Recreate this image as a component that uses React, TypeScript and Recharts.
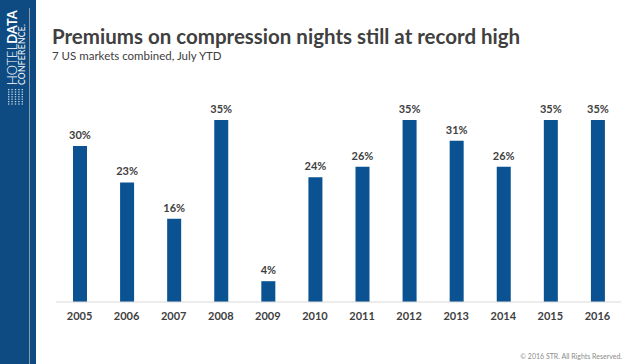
import { BarChart, Bar, XAxis, YAxis, LabelList } from 'recharts'

const years = ['2005', '2006', '2007', '2008', '2009', '2010', '2011', '2012', '2013', '2014', '2015', '2016']
const premiums = [30, 23, 16, 35, 4, 24, 26, 35, 31, 26, 35, 35]

const data = years.map((y, i) => ({ year: y, premium: premiums[i] }))

const FONT = 'Lato, "Open Sans", sans-serif'

export default function App() {
  return (
    <div style={{ position: 'absolute', left: 0, top: 0, width: 628, height: 364, background: '#fff', fontFamily: FONT, overflow: 'hidden' }}>
      {/* side strip */}
      <svg width={36} height={364} style={{ position: 'absolute', left: 0, top: 0 }}>
        <rect x={0} y={0} width={36} height={364} fill="#0d4b82" />
        <line x1={29.5} y1={8} x2={29.5} y2={364} stroke="#8a9aa6" strokeWidth={1} />
        <g transform="translate(17, 85) rotate(-90)">
          <text x={0} y={0} fill="#fff" fontSize={13} fontFamily={FONT}>
            <tspan fontWeight={300}>HOTEL</tspan>
            <tspan fontWeight={700}>DATA</tspan>
          </text>
          <text x={0} y={8} fill="#fff" fontSize={8.5} fontFamily={FONT} letterSpacing={0.3}>CONFERENCE.</text>
        </g>
        <g fill="#c9d6e3">
          {[0, 1, 2, 3, 4, 5, 6].map(r => (
            <g key={r}>
              {[0, 1, 2, 3, 4].map(c => (
                <rect key={c} x={8 + c * 3.4} y={89 + r * 2.4} width={1.4} height={1.2} />
              ))}
            </g>
          ))}
        </g>
      </svg>

      <div style={{ position: 'absolute', left: 52, top: 24, fontSize: 20.5, fontWeight: 700, color: '#404040', whiteSpace: 'nowrap' }}>
        Premiums on compression nights still at record high
      </div>
      <div style={{ position: 'absolute', left: 52, top: 49, fontSize: 11.5, color: '#404040', whiteSpace: 'nowrap' }}>
        7 US markets combined, July YTD
      </div>

      <div style={{ position: 'absolute', left: 0, top: 0 }}>
        <BarChart width={628} height={364} data={data} margin={{ top: 94, right: 7, bottom: 32, left: 56 }} barCategoryGap="35%">
          <XAxis
            dataKey="year"
            tickLine={false}
            axisLine={{ stroke: '#d9d9d9' }}
            tickMargin={4}
            tick={{ fontSize: 11, fontWeight: 700, fill: '#404040', fontFamily: FONT }}
            interval={0}
            height={30}
          />
          <YAxis hide domain={[0, 40]} />
          <Bar dataKey="premium" fill="#0a5291" isAnimationActive={false} barSize={14}>
            <LabelList
              dataKey="premium"
              position="top"
              offset={7}
              formatter={(v: any) => `${v}%`}
              style={{ fontSize: 11, fontWeight: 700, fill: '#404040', fontFamily: FONT }}
            />
          </Bar>
        </BarChart>
      </div>

      <div style={{ position: 'absolute', right: 6, top: 352, fontSize: 7, color: '#8c8c8c', whiteSpace: 'nowrap' }}>
        © 2016 STR. All Rights Reserved.
      </div>
    </div>
  )
}
